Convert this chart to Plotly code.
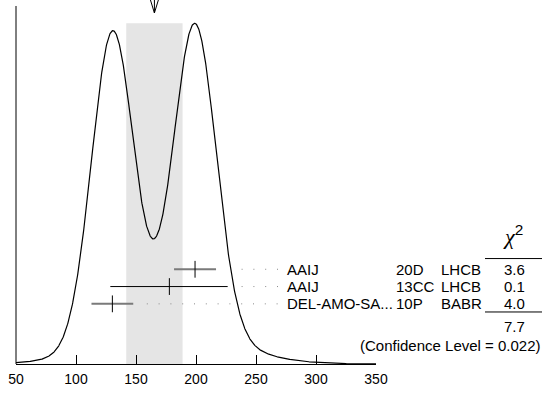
import numpy as np
import plotly.graph_objects as go

# ---------------- data ----------------
names = ["AAIJ", "AAIJ", "DEL-AMO-SA..."]
refs = ["20D", "13CC", "10P"]
exps = ["LHCB", "LHCB", "BABR"]
values = [199.2, 177.8, 130.3]
err_plus = [17.5, 48.6, 17.4]
err_minus = [17.5, 49.2, 17.4]
chi2 = [3.6, 0.1, 4.0]
chi2_total = 7.7
conf_level = 0.022
x_ticks = [50, 100, 150, 200, 250, 300, 350]

# ---------------- styles / layout ----------------
bar_colors = ["#7a7a7a", "#000000", "#7a7a7a"]
bar_widths = [2, 1, 2]
leader_start = [238, 238, 159]
leader_end = 269
FONT = "Liberation Sans, Arial, Helvetica, sans-serif"

W, H = 548, 393
ML, MR, MT, MB = 16, 172, 0, 28.7
PW = W - ML - MR
PH = H - MT - MB
BASE_PX = MT + PH
ROW0_PX, ROW_STEP = 269.5, 17.3


def px_to_paper_x(px):
    return (px - ML) / PW


def px_to_paper_y(py):
    return (BASE_PX - py) / PH


# ---------------- derived quantities ----------------
vals = np.array(values)
sig = (np.array(err_plus) + np.array(err_minus)) / 2
w = 1 / sig ** 2
avg = float(np.sum(w * vals) / np.sum(w))
scale = np.sqrt(chi2_total / (len(values) - 1))
err = float(scale / np.sqrt(np.sum(w)))

xs = np.linspace(50, 350, 1201)
ys = np.zeros_like(xs)
for v, ep, em in zip(values, err_plus, err_minus):
    s = np.where(xs < v, em, ep)
    ss = (ep + em) / 2
    ys += (1 / ss ** 2) * np.exp(-((xs - v) ** 2) / (2 * s ** 2))
ymax = float(ys.max())
yrange_top = ymax * PH / (BASE_PX - 23.3)

fig = go.Figure()

# ideogram curve
fig.add_trace(go.Scatter(x=xs, y=ys, mode="lines",
                         line=dict(color="black", width=1.2),
                         hoverinfo="skip", showlegend=False))

# leader dotted lines & measurements on the row axis
for i in range(len(values)):
    fig.add_trace(go.Scatter(
        x=[leader_start[i], leader_end],
        y=[i, i], yaxis="y2", mode="lines",
        line=dict(color="#8a8a8a", width=1, dash="1px,10.8px"),
        hoverinfo="skip", showlegend=False))
    fig.add_trace(go.Scatter(
        x=[values[i]], y=[i], yaxis="y2", mode="markers",
        marker=dict(symbol="line-ns-open", size=12, color="black",
                    line=dict(color="black", width=1)),
        error_x=dict(type="data", symmetric=False,
                     array=[err_plus[i]], arrayminus=[err_minus[i]],
                     color=bar_colors[i], thickness=bar_widths[i], width=0),
        hoverinfo="skip", showlegend=False))

shapes = []
# shaded band (weighted average +- scaled error)
shapes.append(dict(type="rect", xref="x", yref="y", x0=avg - err, x1=avg + err,
                   y0=0, y1=ymax, fillcolor="#e5e5e5", line=dict(width=0),
                   layer="below"))
# arrow at the average
top = px_to_paper_y(0)
tip = px_to_paper_y(13)
hw = 3.3
shapes.append(dict(type="path", xref="x", yref="paper",
                   path=f"M {avg-hw},{top} L {avg},{tip} L {avg+hw},{top} "
                        f"M {avg},{top} L {avg},{tip}",
                   line=dict(color="black", width=1)))
# left vertical axis line
shapes.append(dict(type="line", xref="paper", yref="paper", x0=0, x1=0,
                   y0=0, y1=px_to_paper_y(6), line=dict(color="black", width=1)))
# chi2 column rules
for r in [-0.62, 2.47]:
    shapes.append(dict(type="line", xref="paper", yref="y2",
                       x0=px_to_paper_x(485), x1=px_to_paper_x(542), y0=r, y1=r,
                       line=dict(color="black", width=1)))

ann = []
tf = dict(family=FONT, size=15, color="black")
for i in range(len(values)):
    ann.append(dict(x=px_to_paper_x(285), y=i, xref="paper", yref="y2",
                    text=names[i], showarrow=False, xanchor="left", font=tf))
    ann.append(dict(x=px_to_paper_x(394), y=i, xref="paper", yref="y2",
                    text=refs[i], showarrow=False, xanchor="left", font=tf))
    ann.append(dict(x=px_to_paper_x(438.5), y=i, xref="paper", yref="y2",
                    text=exps[i], showarrow=False, xanchor="left", font=tf))
    ann.append(dict(x=px_to_paper_x(514), y=i, xref="paper", yref="y2",
                    text=f"{chi2[i]:.1f}", showarrow=False, xanchor="center", font=tf))
ann.append(dict(x=px_to_paper_x(514), y=3.3, xref="paper", yref="y2",
                text=f"{chi2_total:.1f}", showarrow=False, xanchor="center", font=tf))
ann.append(dict(x=px_to_paper_x(543), y=4.4, xref="paper", yref="y2",
                text=f"(Confidence Level = {conf_level:.3f})", showarrow=False,
                xanchor="right", font=tf))
ann.append(dict(x=px_to_paper_x(513), y=-2.0, xref="paper", yref="y2",
                text="<span style='font-family:Liberation Serif'><i>χ</i></span>"
                     "<sup>2</sup>", showarrow=False, xanchor="center",
                font=dict(family=FONT, size=22, color="black")))

fig.update_layout(
    width=W, height=H,
    margin=dict(l=ML, r=MR, t=MT, b=MB, pad=0),
    paper_bgcolor="white", plot_bgcolor="white",
    xaxis=dict(range=[50, 350], tickvals=x_ticks, ticktext=[str(t) for t in x_ticks],
               showgrid=False, zeroline=False, showline=True, linecolor="black",
               linewidth=1, ticks="inside", ticklen=9, tickcolor="black",
               ticklabelstandoff=2,
               tickfont=dict(family=FONT, size=14, color="black")),
    yaxis=dict(range=[0, yrange_top], showgrid=False, zeroline=False,
               showline=False, showticklabels=False, ticks=""),
    yaxis2=dict(range=[(BASE_PX - ROW0_PX) / ROW_STEP, (0 - ROW0_PX) / ROW_STEP],
                overlaying="y", showgrid=False, zeroline=False, showline=False,
                showticklabels=False, ticks=""),
    shapes=shapes, annotations=ann, showlegend=False,
)

fig.write_html("out.html", config={"displayModeBar": False},
               post_script="document.body.style.margin='0px';"
                           "document.body.style.padding='0px';")
